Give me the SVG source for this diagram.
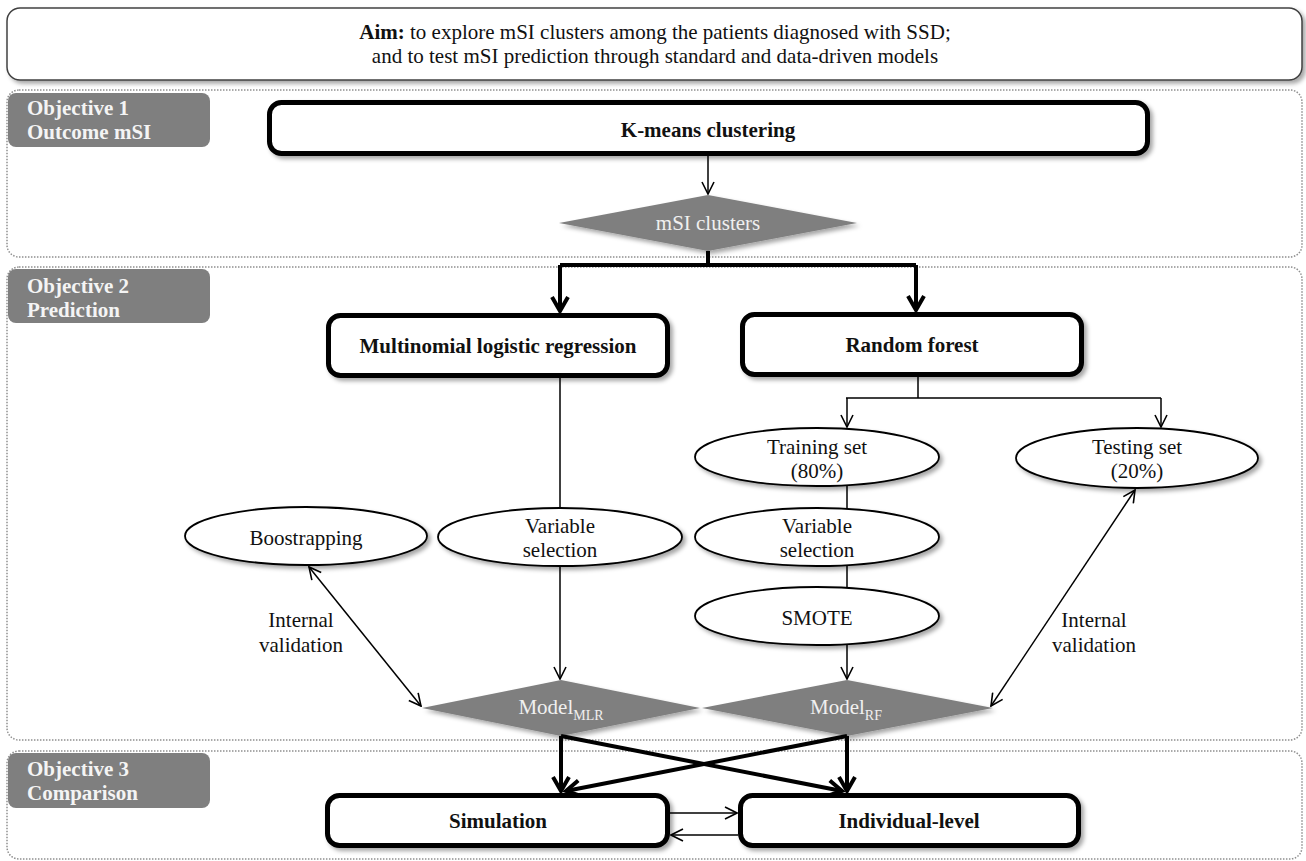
<svg xmlns="http://www.w3.org/2000/svg" width="1306" height="861" viewBox="0 0 1306 861">
<style>
text{font-family:"Liberation Serif","Times New Roman",serif;font-size:21px;fill:#111}
.b{font-weight:bold}
.lbl{font-weight:bold;fill:#f4f4f4}
.dia{fill:#f0f0f0}
.c{text-anchor:middle}
.panel{fill:none;stroke:#8f8f8f;stroke-width:1.5;stroke-dasharray:1.5 1.5}
.tag{fill:#7f7f7f}
.box{fill:#fff;stroke:#000;stroke-width:5}
.ell{fill:#fff;stroke:#000;stroke-width:1.8}
.diamond{fill:#7f7f7f}
.thin{fill:none;stroke:#000;stroke-width:1.5}
.thick{fill:none;stroke:#000;stroke-width:4}
</style>
<defs>
<filter id="sh" x="-10%" y="-20%" width="130%" height="150%">
<feDropShadow dx="3" dy="3" stdDeviation="2" flood-color="#000" flood-opacity="0.35"/>
</filter>
<marker id="a1" markerUnits="userSpaceOnUse" viewBox="0 0 14 14" refX="13" refY="7" markerWidth="14" markerHeight="14" orient="auto-start-reverse">
<path d="M1,1 L13,7 L1,13" fill="none" stroke="#000" stroke-width="1.6"/>
</marker>
<marker id="a2" markerUnits="userSpaceOnUse" viewBox="0 0 20 20" refX="17" refY="10" markerWidth="20" markerHeight="20" orient="auto">
<path d="M3,2 L17,10 L3,18" fill="none" stroke="#000" stroke-width="4"/>
</marker>
</defs>

<g id="aim">
<rect x="7" y="8" width="1295" height="72" rx="13" fill="#fff" stroke="#404040" stroke-width="1.5" filter="url(#sh)"/>
<text x="655" y="39" class="c"><tspan class="b">Aim:</tspan> to explore mSI clusters among the patients diagnosed with SSD;</text>
<text x="655" y="63" class="c">and to test mSI prediction through standard and data-driven models</text>
</g>

<g id="panel1">
<rect x="7" y="90" width="1295" height="167" rx="12" class="panel"/>
<rect x="8" y="93" width="202" height="54" rx="8" class="tag"/>
<text x="27" y="115" class="lbl">Objective 1</text>
<text x="27" y="139" class="lbl">Outcome mSI</text>
</g>

<g id="panel2">
<rect x="7" y="267" width="1295" height="473" rx="12" class="panel"/>
<rect x="8" y="269" width="202" height="54" rx="8" class="tag"/>
<text x="27" y="293" class="lbl">Objective 2</text>
<text x="27" y="317" class="lbl">Prediction</text>
</g>

<g id="panel3">
<rect x="7" y="751" width="1295" height="108" rx="12" class="panel"/>
<rect x="8" y="753" width="202" height="55" rx="8" class="tag"/>
<text x="27" y="776" class="lbl">Objective 3</text>
<text x="27" y="800" class="lbl">Comparison</text>
</g>

<g id="kmeans">
<rect x="269.5" y="102.5" width="878" height="51" rx="12" class="box" filter="url(#sh)"/>
<text x="708" y="137" class="b c">K-means clustering</text>
</g>

<g id="msi">
<polygon points="559,223 708,195 857,223 708,251" class="diamond" filter="url(#sh)"/>
<text x="708" y="230" class="dia c">mSI clusters</text>
</g>

<g id="mlr">
<rect x="328.5" y="315.5" width="339" height="60" rx="12" class="box" filter="url(#sh)"/>
<text x="498" y="353" class="b c">Multinomial logistic regression</text>
</g>

<g id="rf">
<rect x="742.5" y="314.5" width="339" height="60" rx="12" class="box" filter="url(#sh)"/>
<text x="912" y="352" class="b c">Random forest</text>
</g>

<g id="boot">
<ellipse cx="306" cy="536" rx="121" ry="29" class="ell" filter="url(#sh)"/>
<text x="306" y="545" class="c">Boostrapping</text>
</g>

<g id="varsel1">
<ellipse cx="560" cy="537" rx="122" ry="29" class="ell" filter="url(#sh)"/>
<text x="560" y="533" class="c">Variable</text>
<text x="560" y="557" class="c">selection</text>
</g>

<g id="train">
<ellipse cx="817" cy="457" rx="122" ry="29" class="ell" filter="url(#sh)"/>
<text x="817" y="454" class="c">Training set</text>
<text x="817" y="478" class="c">(80%)</text>
</g>

<g id="test">
<ellipse cx="1137" cy="458" rx="121" ry="30" class="ell" filter="url(#sh)"/>
<text x="1137" y="454" class="c">Testing set</text>
<text x="1137" y="478" class="c">(20%)</text>
</g>

<g id="varsel2">
<ellipse cx="817" cy="537" rx="122" ry="29" class="ell" filter="url(#sh)"/>
<text x="817" y="533" class="c">Variable</text>
<text x="817" y="557" class="c">selection</text>
</g>

<g id="smote">
<ellipse cx="817" cy="616" rx="122" ry="29" class="ell" filter="url(#sh)"/>
<text x="817" y="625" class="c">SMOTE</text>
</g>

<g id="modelmlr">
<polygon points="422,708 561,680 700,708 561,736" class="diamond" filter="url(#sh)"/>
<text x="561" y="714" class="dia c">Model<tspan font-size="14" dy="6">MLR</tspan></text>
</g>

<g id="modelrf">
<polygon points="702,708 847,680 993,708 847,736" class="diamond" filter="url(#sh)"/>
<text x="846" y="714" class="dia c">Model<tspan font-size="14" dy="6">RF</tspan></text>
</g>

<g id="sim">
<rect x="327.5" y="795.5" width="340" height="50" rx="12" class="box" filter="url(#sh)"/>
<text x="498" y="828" class="b c">Simulation</text>
</g>

<g id="indiv">
<rect x="740.5" y="795.5" width="338" height="50" rx="12" class="box" filter="url(#sh)"/>
<text x="909" y="828" class="b c">Individual-level</text>
</g>

<g id="labels">
<text x="301" y="627" class="c">Internal</text>
<text x="301" y="652" class="c">validation</text>
<text x="1094" y="627" class="c">Internal</text>
<text x="1094" y="652" class="c">validation</text>
</g>

<g id="connectors">
<path d="M708,156 L708,194" class="thin" marker-end="url(#a1)"/>
<path d="M708,251 L708,265 M560,265 L916,265" class="thick"/>
<path d="M560,265 L560,311" class="thick" marker-end="url(#a2)"/>
<path d="M916,265 L916,310" class="thick" marker-end="url(#a2)"/>
<path d="M560,378 L560,508" class="thin"/>
<path d="M560,566 L560,679" class="thin" marker-end="url(#a1)"/>
<path d="M918,377 L918,398 M846,398 L1161,398" class="thin"/>
<path d="M847,398 L847,427" class="thin" marker-end="url(#a1)"/>
<path d="M1161,398 L1161,427" class="thin" marker-end="url(#a1)"/>
<path d="M847,486 L847,508" class="thin"/>
<path d="M847,566 L847,587" class="thin"/>
<path d="M847,645 L847,679" class="thin" marker-end="url(#a1)"/>
<path d="M309,567 L421,706" class="thin" marker-start="url(#a1)" marker-end="url(#a1)"/>
<path d="M1135,490 L991,706" class="thin" marker-start="url(#a1)" marker-end="url(#a1)"/>
<path d="M561,736 L561,791" class="thick" marker-end="url(#a2)"/>
<path d="M847,736 L847,791" class="thick" marker-end="url(#a2)"/>
<path d="M561,736 L842,791" class="thick" marker-end="url(#a2)"/>
<path d="M847,736 L566,791" class="thick" marker-end="url(#a2)"/>
<path d="M670,813 L737,813" class="thin" marker-end="url(#a1)"/>
<path d="M738,835 L671,835" class="thin" marker-end="url(#a1)"/>
</g>
</svg>
